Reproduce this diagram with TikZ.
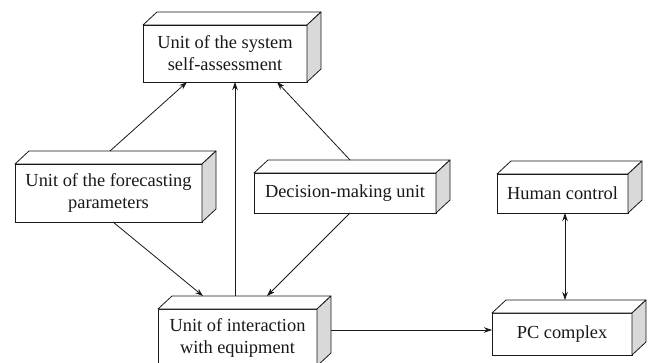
\documentclass[tikz,border=0pt]{standalone}
\usepackage{fontspec}
\setmainfont{Liberation Serif}
\usetikzlibrary{arrows.meta}
\newcommand\boxfaces[1]{%
  \filldraw[topface] (#1.north west) -- ++(14,13) -- ([shift={(14,13)}]#1.north east) -- (#1.north east) -- cycle;
  \filldraw[sideface] (#1.north east) -- ++(14,13) -- ([shift={(14,13)}]#1.south east) -- (#1.south east) -- cycle;}
\begin{document}
\begin{tikzpicture}[x=1pt,y=1pt,
  blk/.style={draw=black!90, line width=0.8pt, fill=white, align=center, inner sep=0pt, outer sep=0pt,
    text=black!90, font=\fontsize{18.4}{22}\selectfont},
  topface/.style={draw=black!90, line width=0.8pt, fill=white, line join=round},
  sideface/.style={draw=black!90, line width=0.8pt, fill=black!15, line join=round},
  tip/.tip={Stealth[length=8pt,width=5.5pt]},
  arr/.style={line width=0.8pt, draw=black!90, -tip},
  darr/.style={line width=0.8pt, draw=black!90, tip-tip}]
\useasboundingbox (0,0) rectangle (651,362);
\clip (0,0) rectangle (651,362);
\node[blk, minimum width=164, minimum height=57] (A) at (225,308.5) {Unit of the system\\self-assessment};
\node[blk, minimum width=187, minimum height=58] (B) at (108.5,169) {Unit of the forecasting\\parameters};
\node[blk, minimum width=182, minimum height=40] (C) at (345,169) {Decision-making unit};
\node[blk, minimum width=159, minimum height=57] (D) at (237.5,24.5) {Unit of interaction\\with equipment};
\node[blk, minimum width=131, minimum height=39] (E) at (562.5,168.5) {Human control};
\node[blk, minimum width=140, minimum height=42] (F) at (562,28) {PC complex};
\boxfaces{A}
\boxfaces{B}
\boxfaces{C}
\boxfaces{D}
\boxfaces{E}
\boxfaces{F}
% arrows
\draw[arr] ([shift={(1.5,13)}]B.north) -- ([xshift=-38]A.south);
\draw[arr] ([shift={(-2.5,13)}]D.north) -- ([xshift=10]A.south);
\draw[arr] ([shift={(5,13)}]C.north) -- ([xshift=52]A.south);
\draw[arr] ([xshift=4.5]B.south) -- ([shift={(-34.5,13)}]D.north);
\draw[arr] ([xshift=5]C.south) -- ([shift={(29.5,13)}]D.north);
\coordinate (dout) at ([shift={(14,7.5)}]D.east);
\draw[arr] (dout) -- (dout -| F.west);
\draw[darr] ([xshift=2.5]E.south) -- ([shift={(3,13)}]F.north);
\end{tikzpicture}
\end{document}
